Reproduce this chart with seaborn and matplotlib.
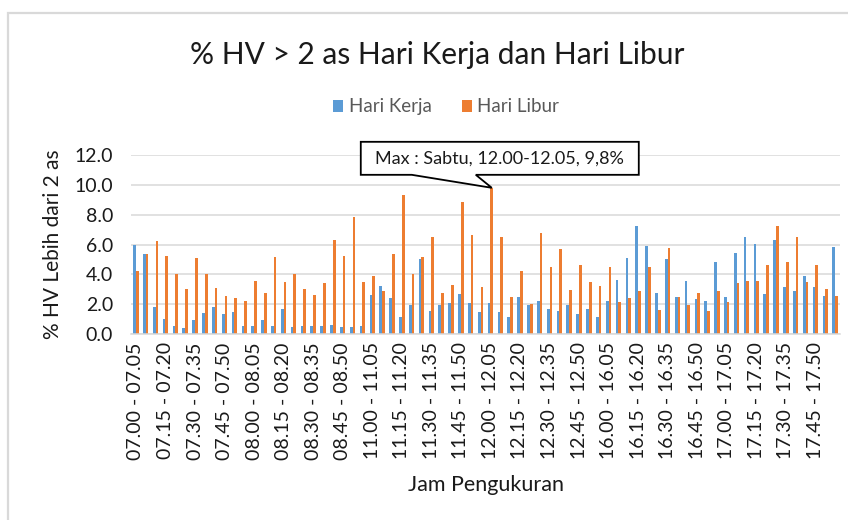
import matplotlib
matplotlib.use("Agg")
import matplotlib.pyplot as plt
import matplotlib.transforms as mtransforms
from matplotlib.patches import Patch, Polygon, Rectangle
import numpy as np
import pandas as pd
import seaborn as sns

# ---- data ----
sesi_mulai = [7, 11, 16]  # start hour of each 2-hour measuring session
jam = []
for h0 in sesi_mulai:
    for k in range(24):
        m0 = h0 * 60 + 5 * k
        m1 = m0 + 5
        jam.append(f"{m0 // 60:02d}.{m0 % 60:02d} - {m1 // 60:02d}.{m1 % 60:02d}")

hari_kerja = [
    6.00, 5.34, 1.78, 1.01, 0.54, 0.38, 0.92, 1.42, 1.78, 1.33, 1.46, 0.54,
    0.54, 0.95, 0.54, 1.69, 0.45, 0.54, 0.54, 0.54, 0.63, 0.45, 0.45, 0.54,
    2.64, 3.24, 2.39, 1.17, 1.96, 5.02, 1.55, 1.96, 2.09, 2.70, 2.09, 1.46,
    2.09, 1.46, 1.17, 2.48, 1.96, 2.23, 1.69, 1.55, 1.96, 1.33, 1.69, 1.17,
    2.23, 3.63, 5.09, 7.23, 5.92, 2.77, 5.02, 2.48, 3.54, 2.32, 2.23, 4.86,
    2.48, 5.41, 6.49, 6.01, 2.70, 6.33, 3.18, 2.86, 3.87, 3.18, 2.57, 5.86,
]
hari_libur = [
    4.23, 5.34, 6.24, 5.25, 4.00, 3.00, 5.09, 4.00, 3.10, 2.57, 2.39, 2.18,
    3.54, 2.77, 5.16, 3.47, 4.00, 3.02, 2.64, 3.40, 6.33, 5.25, 7.86, 3.47,
    3.87, 2.86, 5.34, 9.35, 4.00, 5.16, 6.49, 2.77, 3.31, 8.87, 6.62, 3.18,
    9.80, 6.53, 2.48, 4.23, 2.00, 6.78, 4.48, 5.70, 2.93, 4.62, 3.47, 3.24,
    4.48, 2.14, 2.39, 2.86, 4.48, 1.62, 5.79, 2.48, 1.96, 2.77, 1.55, 2.86,
    2.16, 3.40, 3.54, 3.54, 4.62, 7.25, 4.80, 6.49, 3.47, 4.62, 3.02, 2.57,
]
seri = ["Hari Kerja", "Hari Libur"]
warna = ["#5B9BD5", "#ED7D31"]
yticks = [0, 2, 4, 6, 8, 10, 12]
judul = "% HV > 2 as Hari Kerja dan Hari Libur"
label_x = "Jam Pengukuran"
label_y = "% HV Lebih dari 2 as"
catatan = "Max : Sabtu, 12.00-12.05, 9,8%"

df = pd.DataFrame({
    "Jam": jam * 2,
    "Persen": hari_kerja + hari_libur,
    "Seri": [seri[0]] * len(jam) + [seri[1]] * len(jam),
})

# ---- figure ----
sns.set_theme(style="white")
plt.rcParams["font.family"] = ["Lato", "DejaVu Sans"]

W, H = 848, 520
fig = plt.figure(figsize=(W / 100, H / 100), dpi=100)
L, R, T, B = 131, 840, 155, 334
ax = fig.add_axes([L / W, 1 - B / H, (R - L) / W, (B - T) / H])

sns.barplot(data=df, x="Jam", y="Persen", hue="Seri", order=jam,
            hue_order=seri, palette=warna, width=0.55, saturation=1,
            linewidth=0, legend=False, ax=ax)

ax.set_xlim(-0.5, len(jam) - 0.5)
ax.set_ylim(0, 12)
ax.set_yticks(yticks)
ax.set_yticklabels([f"{v:.1f}" for v in yticks])
ax.set_xticks(range(0, len(jam), 3))
ax.set_xticklabels(jam[::3], rotation=90)
ax.tick_params(axis="y", length=0, pad=13, labelsize=14, labelcolor="#1a1a1a")
ax.tick_params(axis="x", length=0, pad=6, labelsize=14, labelcolor="#1a1a1a")
ax.yaxis.grid(True, color="#D9D9D9", linewidth=1.1)
ax.set_axisbelow(True)
for s in ["left", "right", "top"]:
    ax.spines[s].set_visible(False)
ax.spines["bottom"].set_color("#D9D9D9")
ax.spines["bottom"].set_linewidth(1.1)

ax.set_xlabel(label_x, fontsize=15.5, color="#1a1a1a")
ax.xaxis.label.set_va("center")
ax.xaxis.set_label_coords(0.5, -(485 - B) / (B - T))
ax.set_ylabel(label_y, fontsize=15, color="#1a1a1a")
ax.yaxis.label.set_va("center")
ax.yaxis.set_label_coords(-(L - 53) / (R - L), 0.5)

fig.text(437 / W, 1 - 55 / H, judul, ha="center", va="center",
         fontsize=21.5, color="#1a1a1a")

handles = [Patch(facecolor=c, edgecolor="none") for c in warna]
fig.legend(handles, seri, loc="center", bbox_to_anchor=(446 / W, 1 - 107 / H),
           ncol=2, frameon=False, handlelength=0.55, handleheight=0.55,
           handletextpad=0.3, columnspacing=1.6, fontsize=13.5,
           labelcolor="#595959")

# chart border (left and top visible)
fig.add_artist(Rectangle((8 / W, -0.1), 1.2, 1 - 13 / H + 0.1,
                         transform=fig.transFigure, fill=False,
                         edgecolor="#D9D9D9", linewidth=1.6))

# callout at the maximum bar
tallest = max(ax.patches, key=lambda p: p.get_height())
tx, ty = ax.transData.transform((tallest.get_x() + tallest.get_width() / 2,
                                 tallest.get_height()))
bl, br, bb, bt = tx - 131, tx + 147, ty + 13, ty + 46
verts = [(bl, bb), (bl, bt), (br, bt), (br, bb), (tx - 16, bb), (tx, ty),
         (tx - 80, bb)]
ident = mtransforms.IdentityTransform()
fig.add_artist(Polygon(verts, closed=True, facecolor="white",
                       edgecolor="black", linewidth=1.3, transform=ident,
                       zorder=10))
fig.text((bl + br) / 2 / W, (bb + bt) / 2 / H, catatan, ha="center",
         va="center", fontsize=13, color="#1a1a1a", zorder=11)

fig.savefig("out.png", dpi=100)
